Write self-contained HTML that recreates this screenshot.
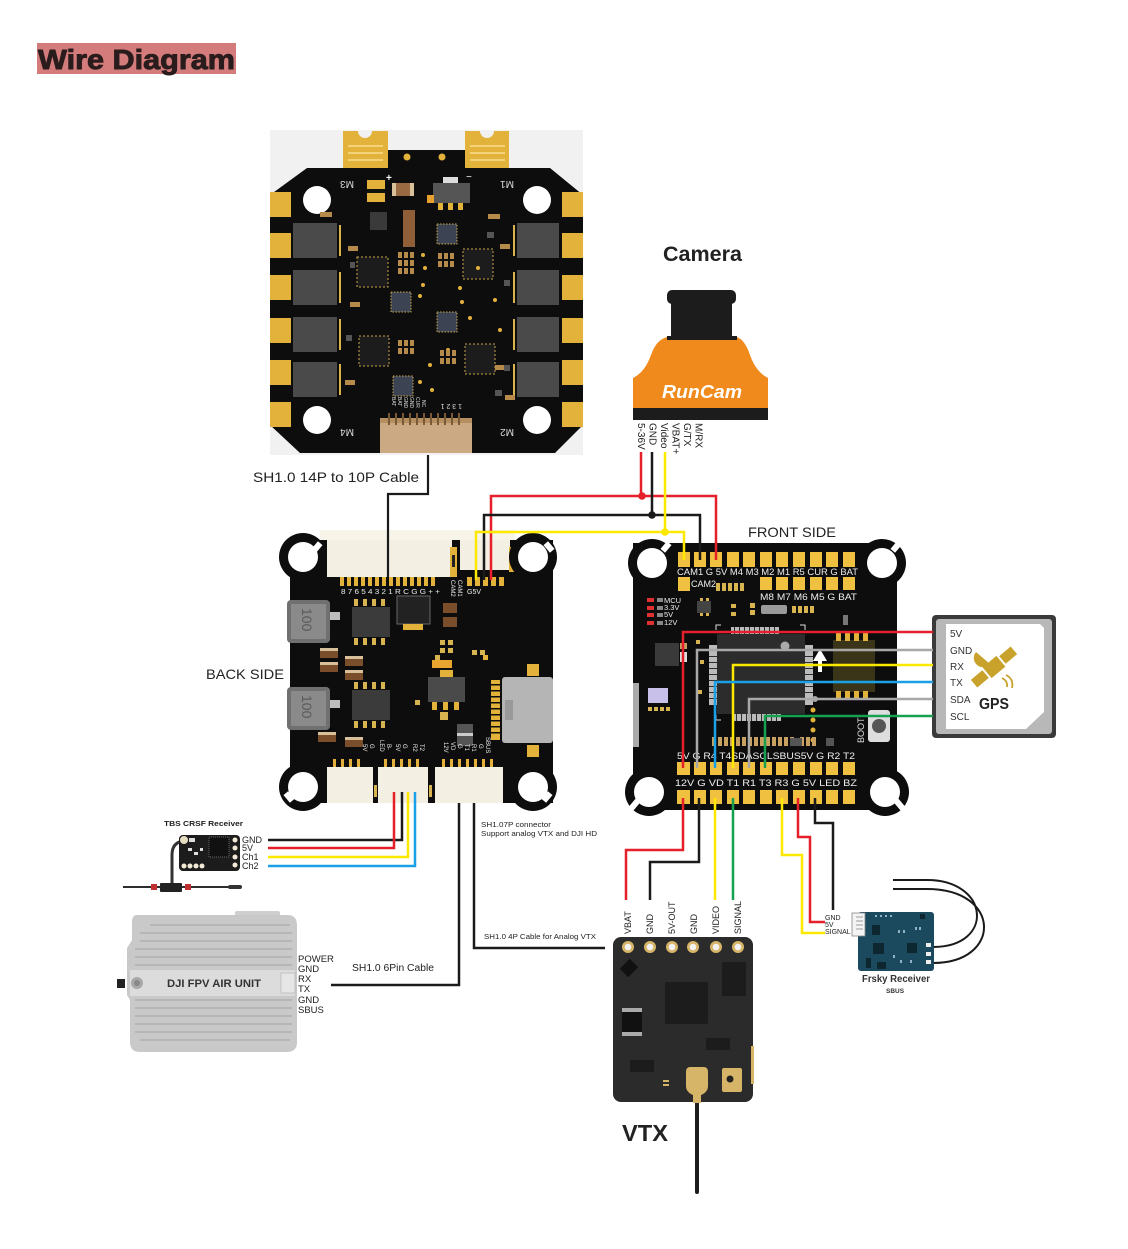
<!DOCTYPE html>
<html><head><meta charset="utf-8">
<style>
html,body{margin:0;padding:0;background:#fff;}
svg{display:block;}
text{font-family:"Liberation Sans",Arial,sans-serif;}
</style></head><body>
<svg width="1128" height="1249" viewBox="0 0 1128 1249" xmlns="http://www.w3.org/2000/svg">
<rect width="1128" height="1249" fill="#fff"/>

<!-- Title -->
<rect x="37" y="43" width="199" height="31" fill="#d47b7b"/>
<text x="38" y="69" font-size="28" font-weight="bold" fill="#2a1c1c" stroke="#2a1c1c" stroke-width="0.9" textLength="197" lengthAdjust="spacingAndGlyphs">Wire Diagram</text>

<!-- ================= ESC ================= -->
<rect x="270" y="130" width="313" height="325" fill="#f1f1f1"/>
<polygon points="270,195 307,168 343,168 343,150 509,150 509,168 550,168 583,195 583,425 555,453 300,453 270,425" fill="#0d0d0d"/>
<path d="M343,131 H358 A7,7 0 0 0 372,131 H388 V168 H343 Z" fill="#e2b23a"/>
<path d="M465,131 H480 A7,7 0 0 0 494,131 H509 V168 H465 Z" fill="#e2b23a"/>
<g fill="#f3d27a">
<rect x="348" y="145" width="35" height="2"/><rect x="348" y="152" width="35" height="2"/><rect x="348" y="159" width="35" height="2"/>
<rect x="470" y="145" width="35" height="2"/><rect x="470" y="152" width="35" height="2"/><rect x="470" y="159" width="35" height="2"/>
</g>
<g fill="#e2b23a">
<rect x="270" y="192" width="21" height="25"/><rect x="270" y="233" width="21" height="25"/><rect x="270" y="275" width="21" height="25"/>
<rect x="270" y="318" width="21" height="25"/><rect x="270" y="360" width="21" height="25"/><rect x="270" y="402" width="21" height="25"/>
<rect x="562" y="192" width="21" height="25"/><rect x="562" y="233" width="21" height="25"/><rect x="562" y="275" width="21" height="25"/>
<rect x="562" y="318" width="21" height="25"/><rect x="562" y="360" width="21" height="25"/><rect x="562" y="402" width="21" height="25"/>
</g>
<g fill="#4a4a4a">
<rect x="293" y="223" width="44" height="35"/><rect x="293" y="270" width="44" height="35"/><rect x="293" y="317" width="44" height="35"/><rect x="293" y="362" width="44" height="35"/>
<rect x="517" y="223" width="42" height="35"/><rect x="517" y="270" width="42" height="35"/><rect x="517" y="317" width="42" height="35"/><rect x="517" y="362" width="42" height="35"/>
</g>
<g fill="#d9b44a">
<rect x="339" y="225" width="2" height="31"/><rect x="339" y="272" width="2" height="31"/><rect x="339" y="319" width="2" height="31"/><rect x="339" y="364" width="2" height="31"/>
<rect x="513" y="225" width="2" height="31"/><rect x="513" y="272" width="2" height="31"/><rect x="513" y="319" width="2" height="31"/><rect x="513" y="364" width="2" height="31"/>
</g>
<g fill="#fff">
<circle cx="317" cy="200" r="14"/><circle cx="537" cy="200" r="14"/><circle cx="317" cy="420" r="14"/><circle cx="537" cy="420" r="14"/>
</g>
<g fill="#1c1c1c" stroke="#c9a54a" stroke-width="1" stroke-dasharray="2,2">
<rect x="357" y="257" width="31" height="30"/><rect x="463" y="249" width="30" height="30"/>
<rect x="359" y="336" width="30" height="30"/><rect x="465" y="344" width="30" height="30"/>
</g>
<g fill="#3c4352" stroke="#c9a54a" stroke-width="1" stroke-dasharray="1.5,1.5">
<rect x="437" y="224" width="20" height="20"/><rect x="391" y="292" width="20" height="20"/>
<rect x="437" y="312" width="20" height="20"/><rect x="393" y="376" width="20" height="20"/>
</g>
<rect x="367" y="180" width="18" height="22" fill="#e2b23a"/><rect x="367" y="189" width="18" height="4" fill="#111"/>
<rect x="392" y="183" width="22" height="13" fill="#9a6a42"/><rect x="392" y="183" width="4" height="13" fill="#d8c09a"/><rect x="410" y="183" width="4" height="13" fill="#d8c09a"/>
<text x="386" y="181" font-size="10" fill="#fff" font-weight="bold">+</text>
<rect x="433" y="183" width="37" height="20" fill="#555"/><rect x="443" y="177" width="15" height="6" fill="#ddd"/>
<g fill="#e2b23a"><rect x="438" y="203" width="5" height="7"/><rect x="448" y="203" width="5" height="7"/><rect x="458" y="203" width="5" height="7"/></g>
<text x="466" y="180" font-size="10" fill="#fff">−</text>
<rect x="403" y="210" width="12" height="37" fill="#8e5f38"/>
<rect x="370" y="212" width="17" height="18" fill="#3a3a3a"/>
<rect x="427" y="195" width="7" height="8" fill="#e8a030"/>
<g fill="#e2b23a">
<circle cx="407" cy="157" r="3.5"/><circle cx="442" cy="157" r="3.5"/>
<circle cx="423" cy="255" r="2"/><circle cx="425" cy="268" r="2"/><circle cx="420" cy="296" r="2"/><circle cx="423" cy="285" r="2"/>
<circle cx="460" cy="288" r="2"/><circle cx="462" cy="302" r="2"/><circle cx="430" cy="365" r="2"/><circle cx="420" cy="382" r="2"/>
<circle cx="478" cy="268" r="2"/><circle cx="495" cy="300" r="2"/><circle cx="500" cy="330" r="2"/><circle cx="432" cy="390" r="2"/>
<circle cx="470" cy="318" r="2"/><circle cx="448" cy="350" r="2"/>
</g>
<g fill="#b58a4a">
<rect x="398" y="252" width="4" height="6"/><rect x="404" y="252" width="4" height="6"/><rect x="410" y="252" width="4" height="6"/>
<rect x="398" y="260" width="4" height="6"/><rect x="404" y="260" width="4" height="6"/><rect x="410" y="260" width="4" height="6"/>
<rect x="398" y="268" width="4" height="6"/><rect x="404" y="268" width="4" height="6"/><rect x="410" y="268" width="4" height="6"/>
<rect x="438" y="253" width="4" height="6"/><rect x="444" y="253" width="4" height="6"/><rect x="450" y="253" width="4" height="6"/>
<rect x="438" y="261" width="4" height="6"/><rect x="444" y="261" width="4" height="6"/><rect x="450" y="261" width="4" height="6"/>
<rect x="398" y="340" width="4" height="6"/><rect x="404" y="340" width="4" height="6"/><rect x="410" y="340" width="4" height="6"/>
<rect x="398" y="348" width="4" height="6"/><rect x="404" y="348" width="4" height="6"/><rect x="410" y="348" width="4" height="6"/>
<rect x="440" y="350" width="4" height="6"/><rect x="446" y="350" width="4" height="6"/><rect x="452" y="350" width="4" height="6"/>
<rect x="440" y="358" width="4" height="6"/><rect x="446" y="358" width="4" height="6"/><rect x="452" y="358" width="4" height="6"/>
<rect x="348" y="246" width="10" height="5"/><rect x="350" y="302" width="10" height="5"/><rect x="345" y="380" width="10" height="5"/>
<rect x="500" y="244" width="10" height="5"/><rect x="495" y="365" width="10" height="5"/><rect x="505" y="395" width="10" height="5"/>
<rect x="320" y="212" width="12" height="5"/><rect x="488" y="214" width="12" height="5"/>
</g>
<g fill="#555">
<rect x="350" y="262" width="5" height="6"/><rect x="504" y="280" width="6" height="6"/><rect x="346" y="335" width="6" height="6"/><rect x="504" y="365" width="6" height="6"/>
<rect x="487" y="232" width="7" height="6"/><rect x="495" y="390" width="7" height="6"/>
</g>
<rect x="380" y="418" width="92" height="35" fill="#caa983"/>
<rect x="380" y="418" width="92" height="5" fill="#b58f62"/>
<g fill="#7a5a35"><rect x="388" y="413" width="2" height="12"/><rect x="395" y="413" width="2" height="12"/><rect x="402" y="413" width="2" height="12"/><rect x="409" y="413" width="2" height="12"/><rect x="416" y="413" width="2" height="12"/><rect x="423" y="413" width="2" height="12"/><rect x="430" y="413" width="2" height="12"/><rect x="437" y="413" width="2" height="12"/><rect x="444" y="413" width="2" height="12"/><rect x="451" y="413" width="2" height="12"/><rect x="458" y="413" width="2" height="12"/></g>
<g font-size="5" fill="#ddd">
<text transform="translate(392,397) rotate(90)">BAT</text><text transform="translate(398,397) rotate(90)">BAT</text><text transform="translate(404,397) rotate(90)">GND</text><text transform="translate(410,397) rotate(90)">GND</text><text transform="translate(416,397) rotate(90)">CUR</text><text transform="translate(422,400) rotate(90)">NC</text>
</g>
<text x="430" y="410" font-size="7" fill="#ddd" transform="rotate(180 446 407)">1 3 2 1</text>
<g font-size="10" fill="#ddd" text-anchor="middle">
<text x="347" y="189" transform="rotate(180 347 185)">M3</text>
<text x="507" y="189" transform="rotate(180 507 185)">M1</text>
<text x="347" y="437" transform="rotate(180 347 433)">M4</text>
<text x="507" y="437" transform="rotate(180 507 433)">M2</text>
</g>
<text x="253" y="482" font-size="14" fill="#222" textLength="166" lengthAdjust="spacingAndGlyphs">SH1.0 14P  to 10P  Cable</text>

<!-- ================= CAMERA ================= -->
<text x="663" y="261" font-size="21" font-weight="bold" fill="#222" textLength="79" lengthAdjust="spacingAndGlyphs">Camera</text>
<rect x="667" y="290" width="69" height="14" rx="5" fill="#1c1c1c"/>
<rect x="671" y="300" width="61" height="38" fill="#1c1c1c"/>
<path d="M667,337 H737 Q745,340 750,355 Q756,372 768,378 V408 H633 V378 Q645,372 651,355 Q656,340 667,337 Z" fill="#f08a1c"/>
<rect x="667" y="336" width="70" height="4" fill="#1c1c1c"/>
<rect x="633" y="408" width="135" height="12" fill="#1c1c1c"/>
<text x="662" y="398" font-size="18" font-style="italic" font-weight="bold" fill="#fff" textLength="80" lengthAdjust="spacingAndGlyphs">RunCam</text>
<g font-size="10" fill="#222">
<text transform="translate(638,423) rotate(90)">5-36V</text>
<text transform="translate(649.5,423) rotate(90)">GND</text>
<text transform="translate(661,423) rotate(90)">Video</text>
<text transform="translate(672.5,423) rotate(90)">VBAT+</text>
<text transform="translate(684,423) rotate(90)">G/TX</text>
<text transform="translate(695.5,423) rotate(90)">M/RX</text>
</g>

<!-- ================= BACK BOARD ================= -->
<rect x="320" y="530" width="195" height="48" fill="#f7f4ea"/>
<rect x="290" y="540" width="263" height="263" fill="#0d0d0d"/>
<rect x="327" y="540" width="125" height="37" fill="#f3efe3"/>
<rect x="460" y="540" width="50" height="30" fill="#f3efe3"/>
<rect x="450" y="547" width="7" height="30" fill="#e2b23a"/><rect x="452" y="555" width="3" height="12" fill="#222"/>
<rect x="509" y="547" width="6" height="25" fill="#e2b23a"/>
<g fill="#e2b23a">
<rect x="340" y="577" width="4" height="9"/><rect x="347" y="577" width="4" height="9"/><rect x="354" y="577" width="4" height="9"/><rect x="361" y="577" width="4" height="9"/><rect x="368" y="577" width="4" height="9"/><rect x="375" y="577" width="4" height="9"/><rect x="382" y="577" width="4" height="9"/><rect x="389" y="577" width="4" height="9"/><rect x="396" y="577" width="4" height="9"/><rect x="403" y="577" width="4" height="9"/><rect x="410" y="577" width="4" height="9"/><rect x="417" y="577" width="4" height="9"/><rect x="424" y="577" width="4" height="9"/><rect x="431" y="577" width="4" height="9"/>
<rect x="467" y="577" width="5" height="9"/><rect x="475" y="577" width="5" height="9"/><rect x="483" y="577" width="5" height="9"/><rect x="491" y="577" width="5" height="9"/><rect x="499" y="577" width="5" height="9"/>
</g>
<text x="341" y="594" font-size="7" fill="#eee" textLength="99" lengthAdjust="spacingAndGlyphs">8 7 6 5 4 3 2 1 R C G G + +</text>
<text x="467" y="594" font-size="7" fill="#eee">G5V</text>
<g font-size="6" fill="#eee"><text transform="translate(451,580) rotate(90)">CAM2</text><text transform="translate(458,580) rotate(90)">CAM1</text></g>
<g>
<circle cx="303" cy="557" r="24" fill="#0d0d0d"/><circle cx="303" cy="557" r="15" fill="#fff"/>
<circle cx="533" cy="557" r="24" fill="#0d0d0d"/><circle cx="533" cy="557" r="15" fill="#fff"/>
<circle cx="303" cy="787" r="24" fill="#0d0d0d"/><circle cx="303" cy="787" r="15" fill="#fff"/>
<circle cx="533" cy="787" r="24" fill="#0d0d0d"/><circle cx="533" cy="787" r="15" fill="#fff"/>
<rect x="314" y="542" width="6" height="10" fill="#fff" transform="rotate(40 317 547)"/>
<rect x="546" y="542" width="6" height="10" fill="#fff" transform="rotate(-40 549 547)"/>
<rect x="286" y="792" width="6" height="10" fill="#fff" transform="rotate(-40 289 797)"/>
<rect x="544" y="792" width="6" height="10" fill="#fff" transform="rotate(40 547 797)"/>
</g>
<rect x="287" y="600" width="43" height="43" rx="4" fill="#707070"/><rect x="291" y="604" width="35" height="35" fill="#8a8a8a"/>
<text transform="translate(302,608) rotate(90)" font-size="14" fill="#5a5a5a">100</text>
<rect x="287" y="687" width="43" height="43" rx="4" fill="#707070"/><rect x="291" y="691" width="35" height="35" fill="#8a8a8a"/>
<text transform="translate(302,695) rotate(90)" font-size="14" fill="#5a5a5a">100</text>
<rect x="330" y="612" width="10" height="8" fill="#bbb"/><rect x="330" y="700" width="10" height="8" fill="#bbb"/>
<rect x="352" y="607" width="38" height="30" fill="#3b3b3b"/>
<rect x="352" y="690" width="38" height="30" fill="#3b3b3b"/>
<g fill="#d8b450">
<rect x="354" y="599" width="4" height="7"/><rect x="363" y="599" width="4" height="7"/><rect x="372" y="599" width="4" height="7"/><rect x="381" y="599" width="4" height="7"/>
<rect x="354" y="638" width="4" height="7"/><rect x="363" y="638" width="4" height="7"/><rect x="372" y="638" width="4" height="7"/><rect x="381" y="638" width="4" height="7"/>
<rect x="354" y="682" width="4" height="7"/><rect x="363" y="682" width="4" height="7"/><rect x="372" y="682" width="4" height="7"/><rect x="381" y="682" width="4" height="7"/>
<rect x="354" y="721" width="4" height="7"/><rect x="363" y="721" width="4" height="7"/><rect x="372" y="721" width="4" height="7"/><rect x="381" y="721" width="4" height="7"/>
</g>
<rect x="397" y="596" width="33" height="28" fill="#222" stroke="#666" stroke-width="1"/>
<rect x="403" y="624" width="20" height="6" fill="#e2b23a"/>
<g>
<rect x="320" y="648" width="18" height="10" fill="#7a4e2a"/><rect x="320" y="648" width="18" height="3" fill="#d8c09a"/>
<rect x="320" y="662" width="18" height="10" fill="#7a4e2a"/><rect x="320" y="662" width="18" height="3" fill="#d8c09a"/>
<rect x="345" y="656" width="18" height="10" fill="#7a4e2a"/><rect x="345" y="656" width="18" height="3" fill="#d8c09a"/>
<rect x="345" y="670" width="18" height="10" fill="#7a4e2a"/><rect x="345" y="670" width="18" height="3" fill="#d8c09a"/>
<rect x="318" y="732" width="18" height="10" fill="#7a4e2a"/><rect x="318" y="732" width="18" height="3" fill="#d8c09a"/>
<rect x="345" y="737" width="18" height="10" fill="#7a4e2a"/><rect x="345" y="737" width="18" height="3" fill="#d8c09a"/>
<rect x="443" y="603" width="14" height="10" fill="#7a4e2a"/><rect x="443" y="617" width="14" height="10" fill="#7a4e2a"/>
</g>
<g fill="#d8b450">
<rect x="440" y="640" width="5" height="5"/><rect x="448" y="640" width="5" height="5"/><rect x="440" y="648" width="5" height="5"/><rect x="448" y="648" width="5" height="5"/>
<rect x="435" y="655" width="5" height="5"/><rect x="415" y="700" width="5" height="5"/><rect x="440" y="712" width="8" height="8"/>
<rect x="472" y="650" width="5" height="5"/><rect x="480" y="650" width="5" height="5"/>
</g>
<rect x="432" y="660" width="20" height="8" fill="#e7a530"/>
<rect x="428" y="677" width="37" height="25" fill="#4a4a4a"/><rect x="440" y="670" width="13" height="7" fill="#e2b23a"/>
<g fill="#e2b23a"><rect x="432" y="702" width="5" height="8"/><rect x="443" y="702" width="5" height="8"/><rect x="454" y="702" width="5" height="8"/></g>
<rect x="502" y="677" width="51" height="66" rx="3" fill="#b5b5b5"/>
<rect x="505" y="700" width="8" height="20" fill="#999"/>
<rect x="491" y="680" width="9" height="60" fill="#e2b23a"/>
<g fill="#0d0d0d"><rect x="491" y="684" width="9" height="1.5"/><rect x="491" y="690" width="9" height="1.5"/><rect x="491" y="696" width="9" height="1.5"/><rect x="491" y="702" width="9" height="1.5"/><rect x="491" y="708" width="9" height="1.5"/><rect x="491" y="714" width="9" height="1.5"/><rect x="491" y="720" width="9" height="1.5"/><rect x="491" y="726" width="9" height="1.5"/><rect x="491" y="732" width="9" height="1.5"/></g>
<rect x="527" y="664" width="12" height="12" fill="#e2b23a"/><rect x="527" y="745" width="12" height="12" fill="#e2b23a"/>
<rect x="457" y="724" width="16" height="22" fill="#555"/><rect x="457" y="733" width="16" height="3" fill="#ccc"/>
<rect x="483" y="655" width="5" height="5" fill="#e2b23a"/>
<g font-size="6" fill="#eee">
<text transform="translate(363,744) rotate(90)">5V</text><text transform="translate(370,744) rotate(90)">G</text>
<text transform="translate(380,740) rotate(90)">LED</text><text transform="translate(387,744) rotate(90)">B-</text>
<text transform="translate(396,744) rotate(90)">5V</text><text transform="translate(403,744) rotate(90)">G</text>
<text transform="translate(413,744) rotate(90)">R2</text><text transform="translate(420,744) rotate(90)">T2</text>
<text transform="translate(444,742) rotate(90)">12V</text><text transform="translate(451,742) rotate(90)">VD</text>
<text transform="translate(458,744) rotate(90)">G</text><text transform="translate(465,744) rotate(90)">T1</text>
<text transform="translate(472,744) rotate(90)">R1</text><text transform="translate(479,744) rotate(90)">G</text>
<text transform="translate(486,737) rotate(90)">SBUS</text>
</g>
<g fill="#e2b23a">
<rect x="333" y="759" width="3" height="9"/><rect x="341" y="759" width="3" height="9"/><rect x="349" y="759" width="3" height="9"/><rect x="357" y="759" width="3" height="9"/>
<rect x="384" y="759" width="3" height="9"/><rect x="392" y="759" width="3" height="9"/><rect x="400" y="759" width="3" height="9"/><rect x="408" y="759" width="3" height="9"/><rect x="416" y="759" width="3" height="9"/>
<rect x="442" y="759" width="3" height="9"/><rect x="450" y="759" width="3" height="9"/><rect x="458" y="759" width="3" height="9"/><rect x="466" y="759" width="3" height="9"/><rect x="474" y="759" width="3" height="9"/><rect x="482" y="759" width="3" height="9"/><rect x="490" y="759" width="3" height="9"/>
</g>
<rect x="327" y="767" width="46" height="36" fill="#f3efe3"/>
<rect x="378" y="767" width="50" height="36" fill="#f3efe3"/>
<rect x="435" y="767" width="68" height="36" fill="#f3efe3"/>
<rect x="374" y="785" width="3" height="12" fill="#d8b450"/><rect x="429" y="785" width="3" height="12" fill="#d8b450"/>
<text x="206" y="679" font-size="14" fill="#222" textLength="78" lengthAdjust="spacingAndGlyphs">BACK SIDE</text>

<!-- ================= FRONT BOARD ================= -->
<rect x="633" y="543" width="264" height="267" fill="#0d0d0d"/>
<g>
<circle cx="652" cy="563" r="24" fill="#0d0d0d"/><circle cx="652" cy="563" r="15" fill="#fff"/>
<circle cx="882" cy="563" r="24" fill="#0d0d0d"/><circle cx="882" cy="563" r="15" fill="#fff"/>
<circle cx="649" cy="792" r="24" fill="#0d0d0d"/><circle cx="649" cy="792" r="15" fill="#fff"/>
<circle cx="885" cy="792" r="24" fill="#0d0d0d"/><circle cx="885" cy="792" r="15" fill="#fff"/>
<rect x="663" y="542" width="6" height="10" fill="#fff" transform="rotate(40 666 547)"/>
<rect x="893" y="542" width="6" height="10" fill="#fff" transform="rotate(40 896 547)"/>
<rect x="632" y="798" width="6" height="12" fill="#fff" transform="rotate(40 635 804)"/>
<rect x="896" y="798" width="6" height="12" fill="#fff" transform="rotate(-40 899 804)"/>
</g>
<text x="748" y="537" font-size="14" fill="#222" textLength="88" lengthAdjust="spacingAndGlyphs">FRONT SIDE</text>
<g fill="#f0c040">
<rect x="678" y="552" width="12" height="15"/><rect x="694" y="552" width="12" height="15"/><rect x="710" y="552" width="12" height="15"/><rect x="727" y="552" width="12" height="15"/><rect x="743" y="552" width="12" height="15"/><rect x="760" y="552" width="12" height="15"/><rect x="776" y="552" width="12" height="15"/><rect x="793" y="552" width="12" height="15"/><rect x="810" y="552" width="12" height="15"/><rect x="826" y="552" width="12" height="15"/><rect x="843" y="552" width="12" height="15"/>
<rect x="678" y="577" width="12" height="14"/>
<rect x="760" y="577" width="12" height="13"/><rect x="776" y="577" width="12" height="13"/><rect x="793" y="577" width="12" height="13"/><rect x="810" y="577" width="12" height="13"/><rect x="826" y="577" width="12" height="13"/><rect x="843" y="577" width="12" height="13"/>
</g>
<g fill="#d8b450"><rect x="716" y="583" width="4" height="8"/><rect x="722" y="583" width="4" height="8"/><rect x="728" y="583" width="4" height="8"/><rect x="734" y="583" width="4" height="8"/><rect x="740" y="583" width="4" height="8"/></g>
<text x="677" y="575" font-size="9" fill="#eee" textLength="181" lengthAdjust="spacingAndGlyphs">CAM1 G 5V M4 M3 M2 M1 R5 CUR G BAT</text>
<text x="691" y="587" font-size="9" fill="#eee">CAM2</text>
<text x="760" y="600" font-size="9" fill="#eee" textLength="97" lengthAdjust="spacingAndGlyphs">M8 M7 M6 M5 G BAT</text>
<g fill="#e03030"><rect x="647" y="598" width="7" height="4"/><rect x="647" y="606" width="7" height="4"/><rect x="647" y="613" width="7" height="4"/><rect x="647" y="621" width="7" height="4"/></g>
<g fill="#888"><rect x="657" y="598" width="6" height="4"/><rect x="657" y="606" width="6" height="4"/><rect x="657" y="613" width="6" height="4"/><rect x="657" y="621" width="6" height="4"/></g>
<g font-size="7.5" fill="#eee"><text x="664" y="603">MCU</text><text x="664" y="610">3.3V</text><text x="664" y="617">5V</text><text x="664" y="625">12V</text></g>
<rect x="697" y="601" width="14" height="12" fill="#444"/>
<g fill="#d8b450"><rect x="700" y="598" width="3" height="3"/><rect x="706" y="598" width="3" height="3"/><rect x="700" y="613" width="3" height="3"/><rect x="706" y="613" width="3" height="3"/>
<rect x="731" y="604" width="5" height="4"/><rect x="731" y="612" width="5" height="4"/><rect x="750" y="603" width="5" height="5"/><rect x="750" y="610" width="5" height="5"/>
<rect x="792" y="606" width="4" height="7"/><rect x="798" y="606" width="4" height="7"/><rect x="804" y="606" width="4" height="7"/><rect x="810" y="606" width="4" height="7"/>
</g>
<rect x="761" y="605" width="26" height="9" fill="#999" rx="2"/>
<rect x="843" y="615" width="5" height="10" fill="#777"/>
<rect x="717" y="634" width="88" height="80" fill="#2c2c2c"/>
<g fill="#bbb">
<rect x="731" y="627" width="48" height="7"/><rect x="733" y="714" width="48" height="7"/>
<rect x="709" y="645" width="8" height="60"/><rect x="805" y="645" width="8" height="60"/>
</g>
<g fill="#2c2c2c"><rect x="734" y="627" width="1" height="7"/><rect x="739" y="627" width="1" height="7"/><rect x="744" y="627" width="1" height="7"/><rect x="749" y="627" width="1" height="7"/><rect x="754" y="627" width="1" height="7"/><rect x="759" y="627" width="1" height="7"/><rect x="764" y="627" width="1" height="7"/><rect x="769" y="627" width="1" height="7"/><rect x="774" y="627" width="1" height="7"/>
<rect x="736" y="714" width="1" height="7"/><rect x="741" y="714" width="1" height="7"/><rect x="746" y="714" width="1" height="7"/><rect x="751" y="714" width="1" height="7"/><rect x="756" y="714" width="1" height="7"/><rect x="761" y="714" width="1" height="7"/><rect x="766" y="714" width="1" height="7"/><rect x="771" y="714" width="1" height="7"/><rect x="776" y="714" width="1" height="7"/>
<rect x="709" y="650" width="8" height="1"/><rect x="709" y="656" width="8" height="1"/><rect x="709" y="662" width="8" height="1"/><rect x="709" y="668" width="8" height="1"/><rect x="709" y="674" width="8" height="1"/><rect x="709" y="680" width="8" height="1"/><rect x="709" y="686" width="8" height="1"/><rect x="709" y="692" width="8" height="1"/><rect x="709" y="698" width="8" height="1"/>
<rect x="805" y="650" width="8" height="1"/><rect x="805" y="656" width="8" height="1"/><rect x="805" y="662" width="8" height="1"/><rect x="805" y="668" width="8" height="1"/><rect x="805" y="674" width="8" height="1"/><rect x="805" y="680" width="8" height="1"/><rect x="805" y="686" width="8" height="1"/><rect x="805" y="692" width="8" height="1"/><rect x="805" y="698" width="8" height="1"/>
</g>
<circle cx="785" cy="646" r="4.5" fill="#aaa"/>
<path d="M716,630 V625 H721 M800,625 H805 V630 M716,715 V720 H721" stroke="#ddd" stroke-width="1" fill="none"/>
<rect x="655" y="643" width="24" height="23" fill="#3a3a3a"/>
<rect x="680" y="643" width="7" height="6" fill="#c8a060"/><rect x="680" y="652" width="7" height="10" fill="#ddd"/>
<rect x="633" y="683" width="6" height="64" fill="#aaa"/>
<rect x="648" y="688" width="20" height="15" fill="#c8c0e8"/>
<g fill="#d8b450"><rect x="648" y="707" width="4" height="4"/><rect x="654" y="707" width="4" height="4"/><rect x="660" y="707" width="4" height="4"/><rect x="666" y="707" width="4" height="4"/>
<rect x="696" y="640" width="4" height="4"/><rect x="700" y="660" width="4" height="4"/><rect x="698" y="690" width="4" height="4"/></g>
<rect x="833" y="640" width="42" height="52" fill="#3a3518"/>
<g fill="#e2b23a"><rect x="836" y="633" width="5" height="8"/><rect x="845" y="633" width="5" height="8"/><rect x="854" y="633" width="5" height="8"/><rect x="863" y="633" width="5" height="8"/>
<rect x="836" y="691" width="5" height="8"/><rect x="845" y="691" width="5" height="8"/><rect x="854" y="691" width="5" height="8"/><rect x="863" y="691" width="5" height="8"/></g>
<path d="M820,649 L827,661 H822 V672 H818 V661 H813 Z" fill="#fff"/>
<g fill="#e2b23a"><circle cx="813" cy="710" r="2.5"/><circle cx="813" cy="720" r="2.5"/><circle cx="813" cy="730" r="2.5"/><circle cx="813" cy="740" r="2.5"/></g>
<rect x="868" y="710" width="22" height="32" rx="3" fill="#ddd"/><circle cx="879" cy="726" r="7" fill="#555"/>
<text transform="translate(864,743) rotate(-90)" font-size="9" fill="#ddd">BOOT</text>
<g fill="#c8a060">
<rect x="712" y="737" width="4" height="9"/><rect x="718" y="737" width="4" height="9"/><rect x="724" y="737" width="4" height="9"/><rect x="730" y="737" width="4" height="9"/><rect x="736" y="737" width="4" height="9"/><rect x="742" y="737" width="4" height="9"/><rect x="748" y="737" width="4" height="9"/><rect x="754" y="737" width="4" height="9"/><rect x="760" y="737" width="4" height="9"/><rect x="766" y="737" width="4" height="9"/><rect x="772" y="737" width="4" height="9"/><rect x="778" y="737" width="4" height="9"/><rect x="784" y="737" width="4" height="9"/><rect x="790" y="737" width="4" height="9"/><rect x="800" y="737" width="4" height="9"/><rect x="806" y="737" width="4" height="9"/><rect x="812" y="737" width="4" height="9"/>
</g>
<rect x="790" y="738" width="12" height="8" fill="#555"/><rect x="826" y="738" width="8" height="8" fill="#555"/>
<g fill="#f0c040">
<rect x="677" y="762" width="13" height="13"/><rect x="694" y="762" width="12" height="13"/><rect x="710" y="762" width="12" height="13"/><rect x="727" y="762" width="12" height="13"/><rect x="743" y="762" width="12" height="13"/><rect x="760" y="762" width="12" height="13"/><rect x="776" y="762" width="12" height="13"/><rect x="793" y="762" width="12" height="13"/><rect x="810" y="762" width="12" height="13"/><rect x="826" y="762" width="12" height="13"/><rect x="843" y="762" width="12" height="13"/>
<rect x="677" y="790" width="13" height="14"/><rect x="694" y="790" width="12" height="14"/><rect x="710" y="790" width="12" height="14"/><rect x="727" y="790" width="12" height="14"/><rect x="743" y="790" width="12" height="14"/><rect x="760" y="790" width="12" height="14"/><rect x="776" y="790" width="12" height="14"/><rect x="793" y="790" width="12" height="14"/><rect x="810" y="790" width="12" height="14"/><rect x="826" y="790" width="12" height="14"/><rect x="843" y="790" width="12" height="14"/>
</g>
<text x="677" y="759" font-size="9" fill="#eee" textLength="178" lengthAdjust="spacingAndGlyphs">5V  G  R4 T4SDASCLSBUS5V G  R2 T2</text>
<text x="675" y="786" font-size="9" fill="#eee" textLength="182" lengthAdjust="spacingAndGlyphs">12V G  VD  T1  R1  T3  R3  G  5V LED BZ</text>

<!-- ================= GPS ================= -->
<rect x="932" y="615" width="124" height="123" rx="4" fill="#3a3a3a"/>
<rect x="936" y="619" width="116" height="115" rx="3" fill="#b8b8b8"/>
<path d="M946,624 H1040 L1044,628 V712 L1026,729 H946 Z" fill="#fff"/>
<g font-size="10" fill="#333">
<text x="950" y="637">5V</text><text x="950" y="654">GND</text><text x="950" y="670">RX</text><text x="950" y="686">TX</text><text x="950" y="703">SDA</text><text x="950" y="720">SCL</text>
</g>
<g fill="#c9a22c" transform="rotate(-40 994 667)">
<rect x="985" y="660" width="18" height="14"/>
<rect x="968" y="662" width="15" height="10"/>
<rect x="1005" y="662" width="15" height="10"/>
</g>
<path d="M976,652 a9,9 0 0 0 14,12 z" fill="#c9a22c"/>
<path d="M1002,678 q6,3 5,9 M1006,675 q8,4 6,13" stroke="#c9a22c" stroke-width="1.8" fill="none"/>
<text x="979" y="709" font-size="16" font-weight="bold" fill="#222" textLength="30" lengthAdjust="spacingAndGlyphs">GPS</text>

<!-- ================= WIRES ================= -->
<g fill="none" stroke-width="2.5" stroke-linejoin="miter">
<path d="M428,455 V494 H388 V577" stroke="#1a1a1a" stroke-width="2.2"/>
<path d="M491,580 V496 H716 V560" stroke="#e5202b"/>
<path d="M641,452 V496" stroke="#e5202b"/>
<path d="M484,580 V515 H700 V560" stroke="#1a1a1a"/>
<path d="M652,452 V515" stroke="#1a1a1a"/>
<path d="M476,580 V532 H684 V560" stroke="#fde800"/>
<path d="M665,452 V532" stroke="#fde800"/>
<path d="M933,632 H683 V768" stroke="#e5202b"/>
<path d="M933,650 H697 V768" stroke="#a8a8a8"/>
<path d="M933,665 H733 V768" stroke="#fde800"/>
<path d="M933,682 H715 V768" stroke="#1aa0e6"/>
<path d="M933,699 H749 V768" stroke="#a8a8a8"/>
<path d="M933,716 H765 V768" stroke="#17a050"/>
<path d="M683,798 V850 H626 V900" stroke="#e5202b"/>
<path d="M699,798 V862 H650 V900" stroke="#1a1a1a"/>
<path d="M715,798 V900" stroke="#fde800"/>
<path d="M733,798 V900" stroke="#17a050"/>
<path d="M782,798 V855 H802 V933 H825" stroke="#fde800"/>
<path d="M798,798 V837 H810 V922 H825" stroke="#e5202b"/>
<path d="M815,798 V823 H833 V910" stroke="#1a1a1a"/>
<path d="M402,792 V840 H268" stroke="#1a1a1a"/>
<path d="M394,792 V848 H268" stroke="#e5202b"/>
<path d="M408,792 V857 H268" stroke="#fde800"/>
<path d="M415,792 V866 H268" stroke="#1aa0e6"/>
<path d="M331,985 H459 V803" stroke="#1a1a1a"/>
<path d="M474,803 V948 H605" stroke="#1a1a1a"/>
</g>
<circle cx="642" cy="496" r="3.8" fill="#e5202b"/>
<circle cx="652" cy="515" r="3.8" fill="#1a1a1a"/>
<circle cx="665" cy="532" r="3.8" fill="#fde800"/>
<circle cx="815" cy="699" r="3" fill="#a8a8a8"/>

<!-- ================= TBS ================= -->
<text x="164" y="826" font-size="7.5" font-weight="bold" fill="#222" textLength="79" lengthAdjust="spacingAndGlyphs">TBS CRSF Receiver</text>
<path d="M184,841 Q172,842 172,855 V886" stroke="#333" stroke-width="3" fill="none"/>
<rect x="179" y="835" width="61" height="36" rx="4" fill="#1c1c1c"/>
<circle cx="184" cy="840" r="4" fill="#e8dcc0"/>
<rect x="209" y="837" width="20" height="20" fill="#111" stroke="#666" stroke-width="1" stroke-dasharray="1,1"/>
<g fill="#f2ead6"><circle cx="235" cy="840" r="2.5"/><circle cx="235" cy="848" r="2.5"/><circle cx="235" cy="857" r="2.5"/><circle cx="235" cy="865" r="2.5"/>
<circle cx="184" cy="866" r="2.5"/><circle cx="190" cy="866" r="2.5"/><circle cx="196" cy="866" r="2.5"/><circle cx="202" cy="866" r="2.5"/></g>
<g fill="#ddd"><rect x="188" y="848" width="4" height="3"/><rect x="194" y="852" width="4" height="3"/><rect x="200" y="848" width="3" height="3"/><rect x="189" y="838" width="6" height="4"/></g>
<line x1="123" y1="887" x2="236" y2="887" stroke="#111" stroke-width="1.8"/>
<rect x="228" y="885" width="14" height="4" rx="2" fill="#333"/>
<rect x="160" y="883" width="22" height="9" rx="1" fill="#222"/>
<rect x="151" y="884" width="6" height="6" fill="#c03030"/><rect x="185" y="884" width="6" height="6" fill="#c03030"/>
<g font-size="9" fill="#222"><text x="242" y="843">GND</text><text x="242" y="851">5V</text><text x="242" y="860">Ch1</text><text x="242" y="869">Ch2</text></g>

<!-- ================= DJI ================= -->
<rect x="235" y="911" width="45" height="6" rx="2" fill="#cfcfcf"/>
<path d="M137,915 H287 Q297,915 297,925 V1042 Q297,1052 287,1052 H140 Q130,1052 130,1042 V1000 L127,995 V948 L132,940 V922 Q132,915 137,915 Z" fill="#c9c9c9"/>
<g stroke="#acacac" stroke-width="1.2">
<line x1="150" y1="925" x2="290" y2="925"/><line x1="140" y1="933" x2="292" y2="933"/><line x1="140" y1="941" x2="292" y2="941"/><line x1="135" y1="949" x2="292" y2="949"/><line x1="135" y1="957" x2="292" y2="957"/><line x1="135" y1="965" x2="292" y2="965"/>
<line x1="135" y1="1000" x2="292" y2="1000"/><line x1="135" y1="1008" x2="292" y2="1008"/><line x1="135" y1="1016" x2="292" y2="1016"/><line x1="135" y1="1024" x2="292" y2="1024"/><line x1="135" y1="1032" x2="292" y2="1032"/><line x1="140" y1="1040" x2="290" y2="1040"/>
</g>
<rect x="130" y="970" width="165" height="26" fill="#dcdcdc"/>
<rect x="281" y="973" width="14" height="20" fill="#e6e6e6" stroke="#bbb" stroke-width="0.8"/>
<circle cx="137" cy="983" r="6" fill="#a8a8a8"/><circle cx="137" cy="983" r="3" fill="#888"/>
<rect x="117" y="979" width="8" height="9" fill="#222"/>
<text x="167" y="987" font-size="11" font-weight="bold" fill="#333" textLength="94" lengthAdjust="spacingAndGlyphs">DJI FPV AIR UNIT</text>
<g font-size="9.5" fill="#222"><text x="298" y="962">POWER</text><text x="298" y="972">GND</text><text x="298" y="982">RX</text><text x="298" y="992">TX</text><text x="298" y="1003">GND</text><text x="298" y="1013">SBUS</text></g>
<text x="352" y="971" font-size="10" fill="#222" textLength="82" lengthAdjust="spacingAndGlyphs">SH1.0 6Pin  Cable</text>
<text x="481" y="827" font-size="7.5" fill="#222" textLength="70" lengthAdjust="spacingAndGlyphs">SH1.07P connector</text>
<text x="481" y="836" font-size="7.5" fill="#222" textLength="116" lengthAdjust="spacingAndGlyphs">Support  analog VTX and DJI HD</text>
<text x="484" y="939" font-size="7.5" fill="#222" textLength="112" lengthAdjust="spacingAndGlyphs">SH1.0 4P Cable for Analog VTX</text>

<!-- ================= VTX ================= -->
<g font-size="9" fill="#222">
<text transform="translate(631,934) rotate(-90)">VBAT</text>
<text transform="translate(653,934) rotate(-90)">GND</text>
<text transform="translate(675,934) rotate(-90)">5V-OUT</text>
<text transform="translate(697,934) rotate(-90)">GND</text>
<text transform="translate(719,934) rotate(-90)">VIDEO</text>
<text transform="translate(741,934) rotate(-90)">SIGNAL</text>
</g>
<rect x="613" y="937" width="140" height="165" rx="8" fill="#2b2b2b"/>
<g fill="#d6b468"><circle cx="628" cy="947" r="6"/><circle cx="650" cy="947" r="6"/><circle cx="672" cy="947" r="6"/><circle cx="693" cy="947" r="6"/><circle cx="716" cy="947" r="6"/><circle cx="738" cy="947" r="6"/></g>
<g fill="#f2f2f2"><circle cx="628" cy="947" r="3.3"/><circle cx="650" cy="947" r="3.3"/><circle cx="672" cy="947" r="3.3"/><circle cx="693" cy="947" r="3.3"/><circle cx="716" cy="947" r="3.3"/><circle cx="738" cy="947" r="3.3"/></g>
<rect x="622" y="962" width="14" height="12" fill="#111" transform="rotate(-45 629 968)"/>
<rect x="665" y="982" width="43" height="42" rx="2" fill="#1c1c1c"/>
<rect x="722" y="962" width="24" height="34" fill="#1c1c1c"/>
<rect x="622" y="1010" width="20" height="25" fill="#111"/><rect x="622" y="1008" width="20" height="4" fill="#aaa"/><rect x="622" y="1032" width="20" height="4" fill="#aaa"/>
<rect x="706" y="1038" width="24" height="12" fill="#1c1c1c"/>
<rect x="630" y="1060" width="24" height="12" fill="#1c1c1c"/>
<rect x="663" y="1080" width="6" height="2" fill="#d6b468"/><rect x="663" y="1084" width="6" height="2" fill="#d6b468"/>
<line x1="697" y1="1100" x2="697" y2="1192" stroke="#1c1c1c" stroke-width="4" stroke-linecap="round"/>
<path d="M690,1067 H704 Q708,1067 708,1072 V1086 Q708,1092 701,1095 V1103 H693 V1095 Q686,1092 686,1086 V1072 Q686,1067 690,1067 Z" fill="#d6b468"/>
<rect x="722" y="1068" width="20" height="24" rx="2" fill="#d6b468"/><circle cx="730" cy="1079" r="3.5" fill="#222"/>
<rect x="751" y="1046" width="3" height="38" fill="#d6b468"/>
<text x="622" y="1141" font-size="23" font-weight="bold" fill="#222" textLength="46" lengthAdjust="spacingAndGlyphs">VTX</text>

<!-- ================= FRSKY ================= -->
<path d="M893,880 H927 C990,880 995,947 933,947" stroke="#1a1a1a" stroke-width="2" fill="none"/>
<path d="M893,889 H927 C1002,889 1002,963 933,963" stroke="#1a1a1a" stroke-width="2" fill="none"/>
<rect x="858" y="912" width="76" height="59" rx="3" fill="#1b4a5f"/>
<rect x="852" y="913" width="13" height="23" fill="#f4f4f4" stroke="#888" stroke-width="0.8"/>
<g stroke="#888" stroke-width="0.8"><line x1="856" y1="917" x2="863" y2="917"/><line x1="856" y1="921" x2="863" y2="921"/><line x1="856" y1="925" x2="863" y2="925"/><line x1="856" y1="929" x2="863" y2="929"/></g>
<g fill="#0e2630"><rect x="872" y="925" width="8" height="10"/><rect x="873" y="943" width="11" height="11"/><rect x="907" y="943" width="10" height="10"/><rect x="866" y="958" width="5" height="10"/><rect x="877" y="962" width="9" height="7"/><rect x="920" y="914" width="5" height="5"/></g>
<g fill="#8fb3c2"><rect x="875" y="915" width="2" height="2"/><rect x="880" y="915" width="2" height="2"/><rect x="885" y="915" width="2" height="2"/><rect x="890" y="915" width="2" height="2"/><rect x="898" y="930" width="2" height="3"/><rect x="903" y="930" width="2" height="3"/><rect x="915" y="927" width="2" height="3"/><rect x="919" y="927" width="2" height="3"/><rect x="893" y="955" width="2" height="3"/><rect x="900" y="960" width="2" height="3"/><rect x="910" y="960" width="2" height="3"/></g>
<g fill="#eee"><rect x="926" y="943" width="5" height="4"/><rect x="926" y="952" width="5" height="4"/><rect x="926" y="960" width="5" height="4"/></g>
<g font-size="7" fill="#222"><text x="825" y="920">GND</text><text x="825" y="927">5V</text><text x="825" y="934">SIGNAL</text></g>
<text x="862" y="982" font-size="10" font-weight="bold" fill="#333" textLength="68" lengthAdjust="spacingAndGlyphs">Frsky Receiver</text>
<text x="886" y="993" font-size="6.5" font-weight="bold" fill="#333">SBUS</text>
</svg>
</body></html>
